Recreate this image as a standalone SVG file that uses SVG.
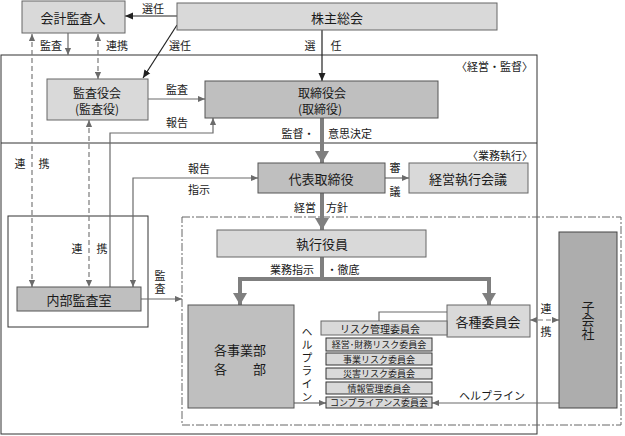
<svg xmlns="http://www.w3.org/2000/svg" width="625" height="436" viewBox="0 0 625 436">
<style>
text{font-family:"Noto Sans CJK JP","Noto Sans",sans-serif;fill:#1a1a1a;text-anchor:middle;dominant-baseline:central}
.t13{font-size:13px}
.t12{font-size:12px}
.t11{font-size:11px}
.t10{font-size:10px}
.t9{font-size:9px}
.v{writing-mode:vertical-rl}
.lb{fill:#d9d9d9;stroke:#666;stroke-width:1}
.dk{fill:#bfbfbf;stroke:#555;stroke-width:1}
.sm{fill:#d9d9d9;stroke:#333;stroke-width:1}
.fr{fill:none;stroke:#333;stroke-width:1}
.ln{fill:none;stroke:#6b6b6b;stroke-width:1.2}
.bk{fill:none;stroke:#222;stroke-width:1.2}
.ds{fill:none;stroke:#7a7a7a;stroke-width:1.2;stroke-dasharray:5,3}
.th{fill:none;stroke:#7f7f7f;stroke-width:4}
</style>
<defs>
<marker id="ag" viewBox="0 0 8 8" refX="8" refY="4" markerWidth="7" markerHeight="7" markerUnits="userSpaceOnUse" orient="auto-start-reverse"><path d="M0,0.5 L8,4 L0,7.5z" fill="#6b6b6b"/></marker>
<marker id="ab" viewBox="0 0 8 8" refX="8" refY="4" markerWidth="8" markerHeight="8" markerUnits="userSpaceOnUse" orient="auto-start-reverse"><path d="M0,0.5 L8,4 L0,7.5z" fill="#222"/></marker>
<marker id="at" viewBox="0 0 12 14" refX="12" refY="7" markerWidth="12" markerHeight="14" markerUnits="userSpaceOnUse" orient="auto"><path d="M0,0 L12,7 L0,14z" fill="#7f7f7f"/></marker>
</defs>

<g id="frames">
<rect class="fr" x="1" y="55" width="536" height="379"/>
<line class="fr" x1="1" y1="143" x2="537" y2="143"/>
<rect class="fr" x="8" y="216" width="140" height="111"/>
<rect x="182" y="217" width="439" height="208" fill="none" stroke="#666" stroke-width="1" stroke-dasharray="8,2,2,2"/>
<text class="t11" x="533" y="66" style="text-anchor:end">〈経営・監督〉</text>
<text class="t11" x="533" y="155" style="text-anchor:end">〈業務執行〉</text>
</g>

<g id="connectors">
<line class="bk" x1="177" y1="16" x2="125" y2="16" marker-end="url(#ab)"/>
<line class="bk" x1="177" y1="25" x2="143" y2="78" marker-end="url(#ab)"/>
<line class="bk" x1="322" y1="30" x2="322" y2="81" marker-end="url(#ab)"/>
<line class="ln" x1="68" y1="33" x2="68" y2="55" marker-end="url(#ag)"/>
<line class="ds" x1="32" y1="34" x2="32" y2="287" marker-start="url(#ag)" marker-end="url(#ag)"/>
<line class="ds" x1="98" y1="34" x2="98" y2="79" marker-start="url(#ag)" marker-end="url(#ag)"/>
<line class="ds" x1="89" y1="120" x2="89" y2="287" marker-start="url(#ag)" marker-end="url(#ag)"/>
<line class="ln" x1="148" y1="99" x2="205" y2="99" marker-end="url(#ag)"/>
<polyline class="ln" points="110,287 110,133 213,133 213,118" marker-end="url(#ag)"/>
<polyline class="ln" points="133,287 133,178 258,178" marker-start="url(#ag)" marker-end="url(#ag)"/>
<line class="ln" x1="385" y1="178" x2="409" y2="178" marker-end="url(#ag)"/>
<line class="ln" x1="141" y1="299" x2="182" y2="299" marker-end="url(#ag)"/>
<line class="th" x1="322" y1="118" x2="322" y2="163" marker-end="url(#at)"/>
<line class="th" x1="322" y1="193" x2="322" y2="230" marker-end="url(#at)"/>
<polyline class="th" points="322,257 322,279"/>
<polyline class="th" points="240,305 240,279 489,279 489,305"/>
<line class="th" x1="240" y1="281" x2="240" y2="305" marker-end="url(#at)"/>
<line class="th" x1="489" y1="281" x2="489" y2="305" marker-end="url(#at)"/>
<polyline class="ln" points="447,312 379,312 379,321"/>
<line class="ln" x1="294" y1="403" x2="326" y2="403" marker-end="url(#ag)"/>
<line class="ln" x1="559" y1="403" x2="432" y2="403" marker-end="url(#ag)"/>
<line class="ds" x1="530" y1="320" x2="559" y2="320" marker-start="url(#ag)" marker-end="url(#ag)"/>
</g>

<g id="labels">
<text class="t11" x="153" y="8">選任</text>
<text class="t11" x="180" y="45">選任</text>
<text class="t11" x="51" y="45">監査</text>
<text class="t11" x="117" y="45">連携</text>
<text class="t11" x="310" y="45">選</text>
<text class="t11" x="336" y="45">任</text>
<text class="t11" x="177" y="89">監査</text>
<text class="t11" x="177" y="122">報告</text>
<text class="t11" x="298" y="133">監督・</text>
<text class="t11" x="350" y="133">意思決定</text>
<text class="t11" x="20" y="163">連</text>
<text class="t11" x="44" y="163">携</text>
<text class="t11" x="199" y="168">報告</text>
<text class="t11" x="199" y="189">指示</text>
<text class="t11" x="395" y="167">審</text>
<text class="t11" x="395" y="191">議</text>
<text class="t11" x="305" y="207">経営</text>
<text class="t11" x="337" y="207">方針</text>
<text class="t11" x="77" y="248">連</text>
<text class="t11" x="102" y="248">携</text>
<text class="t11" x="292" y="269">業務指示</text>
<text class="t11" x="343" y="269">・徹底</text>
<text class="t11 v" x="160" y="283" style="letter-spacing:2px">監査</text>
<text class="t11 v" x="307" y="365" style="letter-spacing:2px">ヘルプライン</text>
<text class="t11" x="546" y="308">連</text>
<text class="t11" x="546" y="331">携</text>
<text class="t11" x="492" y="395">ヘルプライン</text>
</g>

<g id="kaikei"><rect class="lb" x="22" y="1" width="103" height="32"/><text class="t13" x="73" y="17">会計監査人</text></g>
<g id="kabunushi"><rect class="lb" x="177" y="3" width="320" height="27"/><text class="t13" x="337" y="17">株主総会</text></g>
<g id="kansayakukai"><rect class="lb" x="47" y="79" width="101" height="41"/><text class="t12" x="97" y="92">監査役会</text><text class="t12" x="97" y="108">(監査役)</text></g>
<g id="torishimariyakukai"><rect class="dk" x="205" y="81" width="233" height="37"/><text class="t12" x="322" y="92">取締役会</text><text class="t12" x="320" y="108">(取締役)</text></g>
<g id="daihyo"><rect class="dk" x="258" y="163" width="127" height="30"/><text class="t13" x="321" y="178">代表取締役</text></g>
<g id="keieishikko"><rect class="lb" x="409" y="163" width="119" height="30"/><text class="t13" x="468" y="178">経営執行会議</text></g>
<g id="shikkoyakuin"><rect class="lb" x="217" y="230" width="209" height="27"/><text class="t13" x="322" y="243">執行役員</text></g>
<g id="naibukansa"><rect class="dk" x="17" y="287" width="124" height="24"/><text class="t13" x="79" y="299">内部監査室</text></g>
<g id="jigyobu"><rect class="dk" x="188" y="305" width="106" height="103"/><text class="t13" x="240" y="349">各事業部</text><text class="t13" x="240" y="368">各　　部</text></g>
<g id="kakushuiinkai"><rect class="lb" x="447" y="305" width="83" height="32"/><text class="t13" x="488" y="321">各種委員会</text></g>
<g id="risk"><rect class="lb" x="321" y="321" width="126" height="14"/><text class="t10" x="380" y="328">リスク管理委員会</text></g>
<g id="zaimu"><rect class="sm" x="326" y="338" width="106" height="13"/><text class="t9" x="379" y="344.5">経営･財務リスク委員会</text></g>
<g id="jigyorisk"><rect class="sm" x="326" y="353" width="106" height="12"/><text class="t9" x="379" y="359">事業リスク委員会</text></g>
<g id="saigai"><rect class="sm" x="326" y="368" width="106" height="11"/><text class="t9" x="379" y="373.5">災害リスク委員会</text></g>
<g id="joho"><rect class="sm" x="326" y="382" width="106" height="12"/><text class="t9" x="379" y="388">情報管理委員会</text></g>
<g id="compliance"><rect class="sm" x="326" y="397" width="106" height="11"/><text class="t9" x="379" y="402.5">コンプライアンス委員会</text></g>
<g id="kogaisha"><rect x="559" y="232" width="58" height="176" fill="#adadad" stroke="#444" stroke-width="1"/><text class="t13 v" x="588" y="320">子会社</text></g>
</svg>
